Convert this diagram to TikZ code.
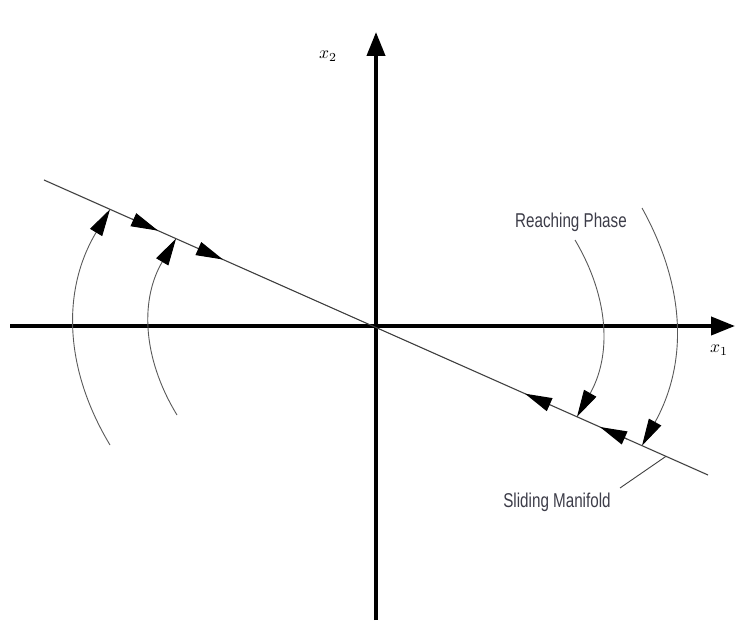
\documentclass[tikz,border=0pt]{standalone}
\usepackage{fontspec}
\newfontfamily\labelfont[FakeStretch=0.76]{Liberation Sans}
\usetikzlibrary{arrows.meta,calc}
\definecolor{labelgray}{RGB}{60,60,72}
\begin{document}
\begin{tikzpicture}[x=1pt,y=1pt,
  axisline/.style={line width=4pt,-{Triangle[length=24pt,width=18pt]}},
  manifoldline/.style={line width=1.1pt,black!75},
  flowarc/.style={line width=0.9pt,black!65,-{Triangle[length=27pt,width=14pt,color=black]}},
  slidearrow/.style={line width=1.1pt,black!75,-{Triangle[length=27pt,width=14pt,color=black]}},
  leader/.style={line width=0.9pt,black!75},
  mathlabel/.style={inner sep=1pt},
  textlabel/.style={font=\labelfont\fontsize{20}{24}\selectfont,text=labelgray,inner sep=1pt}]
\useasboundingbox (0,0) rectangle (736,624);
% axes
\coordinate (xl) at (10,298);
\coordinate (xr) at (735,298);
\coordinate (yb) at (376,4);
\coordinate (yt) at (376,592);
\draw[axisline] (xl) -- (xr);
\draw[axisline] (yb) -- (yt);
\node[mathlabel] (lx1) at (719,274) {\scalebox{1.75}{$x_1$}};
\node[mathlabel] (lx2) at (328,568) {\scalebox{1.75}{$x_2$}};
% sliding manifold
\coordinate (ml) at (44,444);
\coordinate (mr) at (708,149);
\draw[manifoldline] (ml) -- (mr);
% arrows along the manifold
\draw[slidearrow] ($(ml)!0.1325!(mr)$) -- ($(ml)!0.1717!(mr)$);
\draw[slidearrow] ($(ml)!0.2319!(mr)$) -- ($(ml)!0.2696!(mr)$);
\draw[slidearrow] ($(ml)!0.762!(mr)$) -- ($(ml)!0.7244!(mr)$);
\draw[slidearrow] ($(ml)!0.878!(mr)$) -- ($(ml)!0.8373!(mr)$);
% reaching arcs
\coordinate (a1s) at (110,179);
\coordinate (a1e) at ($(ml)!0.0994!(mr)$);
\coordinate (a2s) at (177,209);
\coordinate (a2e) at ($(ml)!0.1988!(mr)$);
\coordinate (a3s) at (575,384);
\coordinate (a3e) at ($(ml)!0.8027!(mr)$);
\coordinate (a4s) at (642,416);
\coordinate (a4e) at ($(ml)!0.9006!(mr)$);
\draw[flowarc] (a1s) to[bend left=31] (a1e);
\draw[flowarc] (a2s) to[bend left=31] (a2e);
\draw[flowarc] (a3s) to[bend left=30] (a3e);
\draw[flowarc] (a4s) to[bend left=29] (a4e);
% labels
\node[textlabel] (reach) at (571,402) {Reaching Phase};
\node[textlabel] (slide) at (557,122) {Sliding Manifold};
\coordinate (lm) at ($(ml)!0.9367!(mr)$);
\coordinate (lf) at (620,136);
\draw[leader] (lm) -- (lf);
\end{tikzpicture}
\end{document}
